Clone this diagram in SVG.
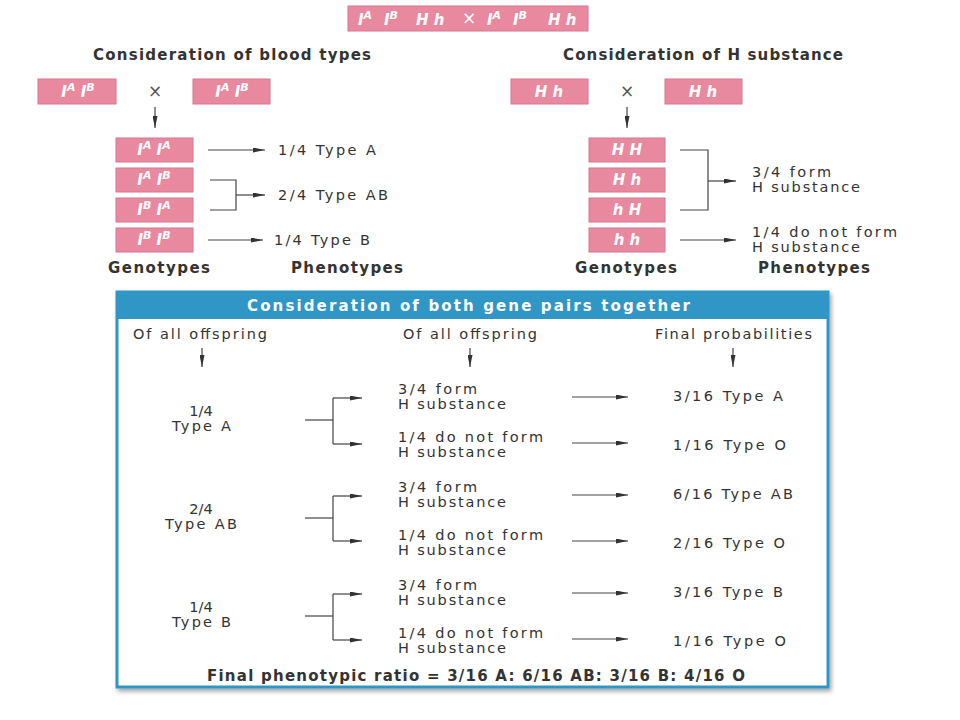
<svg xmlns="http://www.w3.org/2000/svg" width="960" height="720" viewBox="0 0 960 720">
<defs>
<marker id="ah" viewBox="0 0 12 6" refX="12" refY="3" markerWidth="12" markerHeight="5" markerUnits="userSpaceOnUse" orient="auto" preserveAspectRatio="none"><path d="M0,0 L12,3 L0,6 Z" fill="#333"/></marker>
<filter id="sh" x="-5%" y="-5%" width="110%" height="110%"><feDropShadow dx="2" dy="3" stdDeviation="2" flood-color="#000" flood-opacity="0.35"/></filter>
</defs>
<style>
.box{fill:#e8899f;stroke:#d9768e;stroke-width:1}
.g{fill:#fff;font-family:"DejaVu Sans","Liberation Sans",sans-serif;font-weight:bold;font-style:italic;font-size:15px}
.sup{font-size:11px}
.t{fill:#333;font-family:"DejaVu Sans","Liberation Sans",sans-serif;font-size:14.5px}
.b{fill:#333;font-family:"DejaVu Sans","Liberation Sans",sans-serif;font-size:15px;font-weight:bold}
.c{text-anchor:middle}
.ln{fill:none;stroke:#444;stroke-width:1.2}
.ar{fill:none;stroke:#444;stroke-width:1.2;marker-end:url(#ah)}
.x{fill:#555;font-family:"DejaVu Sans",sans-serif;font-size:17px;text-anchor:middle}
</style>
<rect width="960" height="720" fill="#fff"/>

<g id="cross">
<rect class="box" x="348" y="6" width="240" height="25"/>
<text class="g" x="358" y="25" font-size="16">I<tspan class="sup" dy="-6">A</tspan></text>
<text class="g" x="384" y="25" font-size="16">I<tspan class="sup" dy="-6">B</tspan></text>
<text class="g" x="416" y="25" font-size="16">H h</text>
<text class="x" x="469" y="24" style="fill:#fff">×</text>
<text class="g" x="487" y="25" font-size="16">I<tspan class="sup" dy="-6">A</tspan></text>
<text class="g" x="513" y="25" font-size="16">I<tspan class="sup" dy="-6">B</tspan></text>
<text class="g" x="548" y="25" font-size="16">H h</text>
</g>

<text id="title-left" class="b" x="93" y="60" textLength="278">Consideration of blood types</text>
<text id="title-right" class="b" x="563" y="60" textLength="280">Consideration of H substance</text>

<g id="parentL1"><rect class="box" x="38" y="79" width="78" height="25"/><text class="g c" x="78" y="97">I<tspan class="sup" dy="-6">A</tspan><tspan dy="6">  I</tspan><tspan class="sup" dy="-6">B</tspan></text></g>
<text class="x" x="155" y="97">×</text>
<g id="parentL2"><rect class="box" x="193" y="79" width="77" height="25"/><text class="g c" x="232" y="97">I<tspan class="sup" dy="-6">A</tspan><tspan dy="6">  I</tspan><tspan class="sup" dy="-6">B</tspan></text></g>

<g id="parentR1"><rect class="box" x="511" y="79" width="77" height="25"/><text class="g c" x="549" y="97">H h</text></g>
<text class="x" x="627" y="97">×</text>
<g id="parentR2"><rect class="box" x="665" y="79" width="77" height="25"/><text class="g c" x="703" y="97">H h</text></g>

<g id="genoL">
<rect class="box" x="116" y="138" width="77" height="24"/><text class="g c" x="154" y="155">I<tspan class="sup" dy="-6">A</tspan><tspan dy="6">  I</tspan><tspan class="sup" dy="-6">A</tspan></text>
<rect class="box" x="116" y="168" width="77" height="24"/><text class="g c" x="154" y="185">I<tspan class="sup" dy="-6">A</tspan><tspan dy="6">  I</tspan><tspan class="sup" dy="-6">B</tspan></text>
<rect class="box" x="116" y="198" width="77" height="24"/><text class="g c" x="154" y="215">I<tspan class="sup" dy="-6">B</tspan><tspan dy="6">  I</tspan><tspan class="sup" dy="-6">A</tspan></text>
<rect class="box" x="116" y="228" width="77" height="24"/><text class="g c" x="154" y="245">I<tspan class="sup" dy="-6">B</tspan><tspan dy="6">  I</tspan><tspan class="sup" dy="-6">B</tspan></text>
</g>

<g id="genoR">
<rect class="box" x="589" y="138" width="76" height="24"/><text class="g c" x="627" y="155">H H</text>
<rect class="box" x="589" y="168" width="76" height="24"/><text class="g c" x="627" y="185">H h</text>
<rect class="box" x="589" y="198" width="76" height="24"/><text class="g c" x="627" y="215">h H</text>
<rect class="box" x="589" y="228" width="76" height="24"/><text class="g c" x="627" y="245">h h</text>
</g>

<g id="phenoL">
<text class="t" x="278" y="155" textLength="98">1/4 Type A</text>
<text class="t" x="278" y="200" textLength="110">2/4 Type AB</text>
<text class="t" x="274" y="245" textLength="96">1/4 Type B</text>
</g>
<g id="phenoR">
<text class="t" x="752" y="177" textLength="79">3/4 form</text>
<text class="t" x="752" y="192" textLength="108">H substance</text>
<text class="t" x="752" y="237" textLength="145">1/4 do not form</text>
<text class="t" x="752" y="252" textLength="108">H substance</text>
</g>

<text class="b" x="108" y="273" textLength="102">Genotypes</text>
<text class="b" x="291" y="273" textLength="112">Phenotypes</text>
<text class="b" x="575" y="273" textLength="102">Genotypes</text>
<text class="b" x="758" y="273" textLength="112">Phenotypes</text>

<g id="panel">
<rect x="117" y="292" width="711" height="395" fill="#fff" stroke="#2f96c6" stroke-width="3" filter="url(#sh)"/>
<rect x="117" y="292" width="711" height="27" fill="#2f96c6"/>
<text class="b" x="247" y="311" textLength="443" style="fill:#fff">Consideration of both gene pairs together</text>
<text class="t" x="133" y="339" textLength="134">Of all offspring</text>
<text class="t" x="403" y="339" textLength="134">Of all offspring</text>
<text class="t" x="655" y="339" textLength="157">Final probabilities</text>

<text class="t c" x="201" y="416">1/4</text>
<text class="t" x="172" y="431" textLength="59">Type A</text>
<text class="t" x="398" y="394" textLength="79">3/4 form</text>
<text class="t" x="398" y="409" textLength="108">H substance</text>
<text class="t" x="398" y="442" textLength="145">1/4 do not form</text>
<text class="t" x="398" y="457" textLength="108">H substance</text>
<text class="t" x="673" y="401" textLength="110">3/16 Type A</text>
<text class="t" x="673" y="450" textLength="113">1/16 Type O</text>

<text class="t c" x="201" y="514">2/4</text>
<text class="t" x="165" y="529" textLength="72">Type AB</text>
<text class="t" x="398" y="492" textLength="79">3/4 form</text>
<text class="t" x="398" y="507" textLength="108">H substance</text>
<text class="t" x="398" y="540" textLength="145">1/4 do not form</text>
<text class="t" x="398" y="555" textLength="108">H substance</text>
<text class="t" x="673" y="499" textLength="120">6/16 Type AB</text>
<text class="t" x="673" y="548" textLength="112">2/16 Type O</text>

<text class="t c" x="201" y="612">1/4</text>
<text class="t" x="172" y="627" textLength="59">Type B</text>
<text class="t" x="398" y="590" textLength="79">3/4 form</text>
<text class="t" x="398" y="605" textLength="108">H substance</text>
<text class="t" x="398" y="638" textLength="145">1/4 do not form</text>
<text class="t" x="398" y="653" textLength="108">H substance</text>
<text class="t" x="673" y="597" textLength="110">3/16 Type B</text>
<text class="t" x="673" y="646" textLength="113">1/16 Type O</text>

<text class="b" x="207" y="681" textLength="538">Final phenotypic ratio = 3/16 A: 6/16 AB: 3/16 B: 4/16 O</text>
</g>

<g id="connectors">
<path class="ar" d="M155,107 V128"/>
<path class="ar" d="M627,107 V128"/>
<path class="ar" d="M208,150 H265"/>
<path class="ln" d="M210,180 H236 V210 H210"/>
<path class="ar" d="M236,195 H265"/>
<path class="ar" d="M208,240 H263"/>
<path class="ln" d="M680,150 H708 V210 H680"/>
<path class="ar" d="M708,181 H736"/>
<path class="ar" d="M680,240 H736"/>

<path class="ar" d="M202,348 V367"/>
<path class="ar" d="M470,348 V367"/>
<path class="ar" d="M733,348 V367"/>

<path class="ln" d="M305,420 H333"/>
<path class="ln" d="M333,398 V444"/>
<path class="ar" d="M333,398 H362"/>
<path class="ar" d="M333,444 H362"/>
<path class="ar" d="M572,397 H628"/>
<path class="ar" d="M572,443 H628"/>

<path class="ln" d="M305,518 H333"/>
<path class="ln" d="M333,496 V541"/>
<path class="ar" d="M333,496 H362"/>
<path class="ar" d="M333,541 H362"/>
<path class="ar" d="M572,495 H628"/>
<path class="ar" d="M572,541 H628"/>

<path class="ln" d="M305,616 H333"/>
<path class="ln" d="M333,594 V640"/>
<path class="ar" d="M333,594 H362"/>
<path class="ar" d="M333,640 H362"/>
<path class="ar" d="M572,593 H628"/>
<path class="ar" d="M572,639 H628"/>
</g>
</svg>
